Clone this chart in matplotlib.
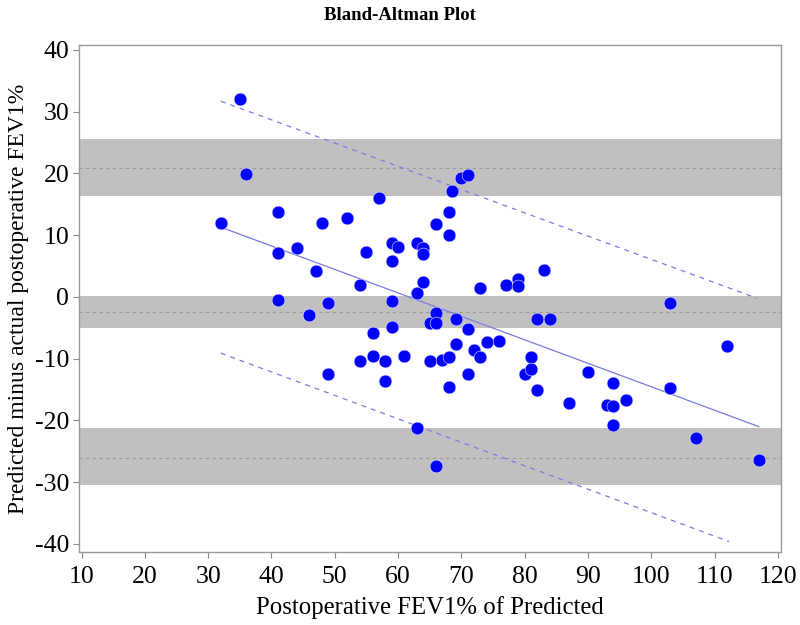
import matplotlib
matplotlib.use("Agg")
import matplotlib.pyplot as plt

# ---- data ----
fev1_pct = [35, 36, 32, 41, 41, 41, 44, 47, 48, 46, 49, 49, 52, 54, 54, 55, 56, 56,
            57, 58, 58, 59, 60, 59, 59, 59, 61, 63, 63, 63, 64, 64, 64, 65, 65, 66,
            66, 66, 66, 67, 68, 68, 68, 68, 68.6, 69.1, 69.1, 70, 71, 71, 71, 72, 73,
            73, 74, 76, 77, 79, 79, 80, 81, 81, 82, 82, 83, 84, 87, 90, 93, 94, 94,
            94, 96, 103, 103, 107, 112, 117]
diff = [32.1, 19.9, 11.9, 13.7, 7.1, -0.5, 7.9, 4.2, 11.9, -2.9, -0.9, -12.4, 12.8,
        1.9, -10.4, 7.3, -5.9, -9.6, 16.0, -10.4, -13.6, 8.7, 8.1, 5.8, -0.6, -4.8,
        -9.6, 8.8, 0.7, -21.2, 7.9, 7.0, 2.4, -4.2, -10.4, 11.8, -2.6, -4.2, -27.4,
        -10.2, -9.7, -14.6, 10.1, 13.8, 17.1, -3.5, -7.6, 19.2, 19.7, -5.2, -12.5,
        -8.6, -9.7, 1.5, -7.3, -7.1, 1.9, 2.9, 1.7, -12.5, -9.7, -11.7, -15.1, -3.5,
        4.4, -3.6, -17.1, -12.1, -17.5, -13.9, -17.6, -20.7, -16.7, -0.9, -14.8,
        -22.8, -7.9, -26.4]

# bands: (lower, upper, centre)
band_upper = (16.3, 25.6, 20.9)
band_mean = (-5.1, 0.2, -2.5)
band_lower = (-30.5, -21.3, -26.0)

reg_x = [32, 117]
reg_y = [11.3, -21.0]
upper_x = [32, 116.7]
upper_y = [31.7, -0.2]
lower_x = [32, 112.3]
lower_y = [-9.1, -39.6]

x_ticks = list(range(10, 121, 10))
y_ticks = list(range(-40, 41, 10))

title = "Bland-Altman Plot"
x_label = "Postoperative FEV1% of Predicted"
y_label = "Predicted minus actual postoperative FEV1%"

# ---- plot ----
plt.rcParams['font.family'] = ['Liberation Serif', 'DejaVu Serif']
plt.rcParams['axes.unicode_minus'] = False
fig = plt.figure(figsize=(8, 6.25), dpi=100)
ax = fig.add_axes([0.09875, 0.1168, 0.8775, 0.8112])

for lo, hi, c in (band_upper, band_mean, band_lower):
    ax.axhspan(lo, hi, color='#C0C0C0', lw=0, zorder=1)
    ax.axhline(c, color='#9A9A9A', lw=0.8, ls=(0, (3, 3)), zorder=2)

ax.plot(reg_x, reg_y, color='#7B7BE0', lw=0.9, zorder=3)
ax.plot(upper_x, upper_y, color='#7B7BE0', lw=0.9, ls=(0, (4, 4)), zorder=3)
ax.plot(lower_x, lower_y, color='#7B7BE0', lw=0.9, ls=(0, (4, 4)), zorder=3)

ax.scatter(fev1_pct, diff, s=85, color='#0000FF', edgecolors='#E8E8FF',
           linewidths=0.4, zorder=4)

ax.set_xlim(9.6, 120.5)
ax.set_ylim(-41.3, 40.8)
ax.set_xticks(x_ticks)
ax.set_yticks(y_ticks)
ax.tick_params(axis='both', labelsize=18.5, colors='#888888', labelcolor='black',
               length=4, width=0.8, direction='out', pad=3)
ax.tick_params(axis='x', pad=6)
for s in ax.spines.values():
    s.set_color('#999999')
    s.set_linewidth(1.0)

ax.set_xlabel(x_label, fontsize=17.8, labelpad=6)
ax.set_ylabel(y_label, fontsize=17, labelpad=4)
fig.text(0.5, 0.975, title, ha='center', va='center', fontsize=13.5, fontweight='bold')

fig.savefig('out.png', dpi=100)
